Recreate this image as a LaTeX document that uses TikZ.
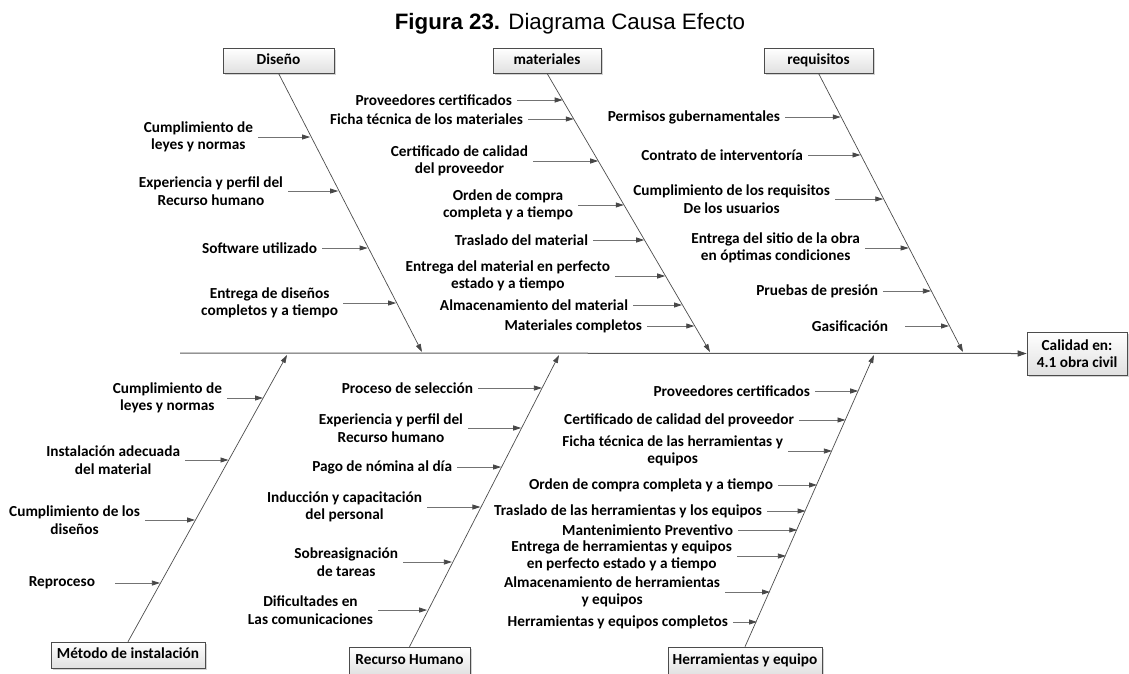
\documentclass[tikz,border=0pt]{standalone}
\usepackage{fontspec}
\setmainfont{Carlito}
\newfontfamily\titlefont{Liberation Sans}
\usetikzlibrary{arrows.meta,shadows}

\begin{document}
\begin{tikzpicture}[x=1pt,y=-1pt,
  lab/.style={font=\bfseries\fontsize{15.3}{17.5}\selectfont, align=center,
              inner sep=0pt, outer xsep=5pt, anchor=east},
  box/.style={draw=black!70, line width=0.6pt, top color=white, bottom color=black!12,
              font=\bfseries\fontsize{15.3}{17.5}\selectfont, align=center, inner sep=0pt,
              drop shadow={shadow xshift=1.5pt, shadow yshift=-1.5pt, opacity=0.35}},
  cat/.style={box, text height=10.5pt, text depth=3.5pt},
  arr/.style={draw=black!55, line width=0.8pt, -{Triangle[length=8pt,width=5pt,color=black!72]}},
  bone/.style={draw=black!70, line width=0.7pt, -{Triangle[length=8pt,width=5pt,color=black!72]}},
  spine/.style={draw=black!65, line width=1pt, -{Triangle[length=9pt,width=6pt,color=black!72]}}]

\useasboundingbox (0,0) rectangle (1129,673);

% title
\node[anchor=base, inner sep=0pt, font=\titlefont\fontsize{22.3}{26}\selectfont] (title) at (570,29)
  {\textbf{Figura 23.} Diagrama Causa Efecto};

% category boxes
\node[cat, minimum width=111pt, minimum height=25pt] (dis) at (278.5,60.5) {Diseño};
\node[cat, minimum width=108pt, minimum height=25pt] (mat) at (547,60.5) {materiales};
\node[cat, minimum width=109pt, minimum height=25pt] (req) at (818.5,60.5) {requisitos};
\node[cat, minimum width=154pt, minimum height=26pt] (met) at (128,655) {Método de instalación};
\node[cat, minimum width=121pt, minimum height=28pt] (rh)  at (409.5,661) {Recurso Humano};
\node[cat, minimum width=154pt, minimum height=28pt] (her) at (745,661) {Herramientas y equipo};

% effect
\node[box, minimum width=100pt, minimum height=43pt] (eff) at (1077,353.5) {Calidad en:\\4.1 obra civil};

% spine and bones
\coordinate (tail) at (180,353);
\draw[spine] (tail) -- (eff.west);

\coordinate (sD) at (422,352);
\coordinate (sM) at (710,352);
\coordinate (sR) at (963,352);
\coordinate (sE) at (287,355);
\coordinate (sH) at (559,355);
\coordinate (sQ) at (874,355);
\draw[bone] (dis.south) -- (sD);
\draw[bone] (mat.south) -- (sM);
\draw[bone] (req.south) -- (sR);
\draw[bone] (met.north) -- (sE);
\draw[bone] (rh.north)  -- (sH);
\draw[bone] (her.north) -- (sQ);

% causes: Diseño
\node[lab] (dA) at (258,137) {Cumplimiento de\\leyes y normas};
\node[lab] (dB) at (288,191) {Experiencia y perfil del\\Recurso humano};
\node[lab] (dC) at (322,248) {Software utilizado};
\node[lab] (dD) at (343,303) {Entrega de diseños\\completos y a tiempo};
\coordinate (tdA) at (310.1,137);
\coordinate (tdB) at (338.1,191);
\coordinate (tdC) at (367.6,248);
\coordinate (tdD) at (396.1,303);
\foreach \n in {A,B,C,D} \draw[arr] (d\n.east) -- (td\n);

% causes: materiales
\node[lab] (mA) at (517,100) {Proveedores certificados};
\node[lab] (mB) at (528,119) {Ficha técnica de los materiales};
\node[lab] (mC) at (533,161) {Certificado de calidad\\del proveedor};
\node[lab] (mD) at (578,205) {Orden de compra\\completa y a tiempo};
\node[lab] (mE) at (593,240) {Traslado del material};
\node[lab] (mF) at (615,276) {Entrega del material en perfecto\\estado y a tiempo};
\node[lab] (mG) at (633,305) {Almacenamiento del material};
\node[lab] (mH) at (647,326) {Materiales completos};
\coordinate (tmA) at (562.7,100);
\coordinate (tmB) at (573.8,119);
\coordinate (tmC) at (598.2,161);
\coordinate (tmD) at (623.8,205);
\coordinate (tmE) at (644.2,240);
\coordinate (tmF) at (665.2,276);
\coordinate (tmG) at (682.0,305);
\coordinate (tmH) at (694.3,326);
\foreach \n in {A,B,C,D,E,F,G,H} \draw[arr] (m\n.east) -- (tm\n);

% causes: requisitos
\node[lab] (rA) at (785,117) {Permisos gubernamentales};
\node[lab] (rB) at (808,155) {Contrato de interventoría};
\node[lab] (rC) at (835,199) {Cumplimiento de los requisitos\\De los usuarios};
\node[lab] (rD) at (865,248) {Entrega del sitio de la obra\\en óptimas condiciones};
\node[lab] (rE) at (883,291) {Pruebas de presión};
\node[lab, outer xsep=17pt] (rF) at (905,326) {Gasificación};
\coordinate (trA) at (840.8,117);
\coordinate (trB) at (860.5,155);
\coordinate (trC) at (883.3,199);
\coordinate (trD) at (908.6,248);
\coordinate (trE) at (930.9,291);
\coordinate (trF) at (949.0,326);
\foreach \n in {A,B,C,D,E,F} \draw[arr] (r\n.east) -- (tr\n);

% causes: Método de instalación
\node[lab] (eA) at (227,398) {Cumplimiento de\\leyes y normas};
\node[lab] (eB) at (185,460) {Instalación adecuada\\del material};
\node[lab] (eC) at (145,520) {Cumplimiento de los\\diseños};
\node[lab, outer xsep=20pt] (eD) at (115,583) {Reproceso};
\coordinate (teA) at (263.0,398);
\coordinate (teB) at (228.5,460);
\coordinate (teC) at (195.0,520);
\coordinate (teD) at (159.9,583);
\foreach \n in {A,B,C,D} \draw[arr] (e\n.east) -- (te\n);

% causes: Recurso Humano
\node[lab] (hA) at (478,388) {Proceso de selección};
\node[lab] (hB) at (468,428) {Experiencia y perfil del\\Recurso humano};
\node[lab] (hC) at (457,467) {Pago de nómina al día};
\node[lab] (hD) at (427,507) {Inducción y capacitación\\del personal};
\node[lab] (hE) at (403,562) {Sobreasignación\\de tareas};
\node[lab] (hF) at (378,610) {Dificultades en\\Las comunicaciones};
\coordinate (thA) at (541.9,388);
\coordinate (thB) at (521.2,428);
\coordinate (thC) at (501.1,467);
\coordinate (thD) at (480.4,507);
\coordinate (thE) at (451.9,562);
\coordinate (thF) at (427.1,610);
\foreach \n in {A,B,C,D,E,F} \draw[arr] (h\n.east) -- (th\n);

% causes: Herramientas y equipo
\node[lab] (qA) at (815,391) {Proveedores certificados};
\node[lab] (qB) at (799,420) {Certificado de calidad del proveedor};
\node[lab] (qC) at (788,451) {Ficha técnica de las herramientas y\\equipos};
\node[lab] (qD) at (778,485) {Orden de compra completa y a tiempo};
\node[lab] (qE) at (767,511) {Traslado de las herramientas y los equipos};
\node[lab] (qF) at (738,530) {Mantenimiento Preventivo};
\node[lab] (qG) at (737,556) {Entrega de herramientas y equipos\\en perfecto estado y a tiempo};
\node[lab] (qH) at (725,592) {Almacenamiento de herramientas\\y equipos};
\node[lab] (qI) at (733,622) {Herramientas y equipos completos};
\coordinate (tqA) at (858.2,391);
\coordinate (tqB) at (845.5,420);
\coordinate (tqC) at (831.9,451);
\coordinate (tqD) at (817.0,485);
\coordinate (tqE) at (805.6,511);
\coordinate (tqF) at (797.3,530);
\coordinate (tqG) at (785.9,556);
\coordinate (tqH) at (770.1,592);
\coordinate (tqI) at (757.0,622);
\foreach \n in {A,B,C,D,E,F,G,H,I} \draw[arr] (q\n.east) -- (tq\n);

\end{tikzpicture}
\end{document}
